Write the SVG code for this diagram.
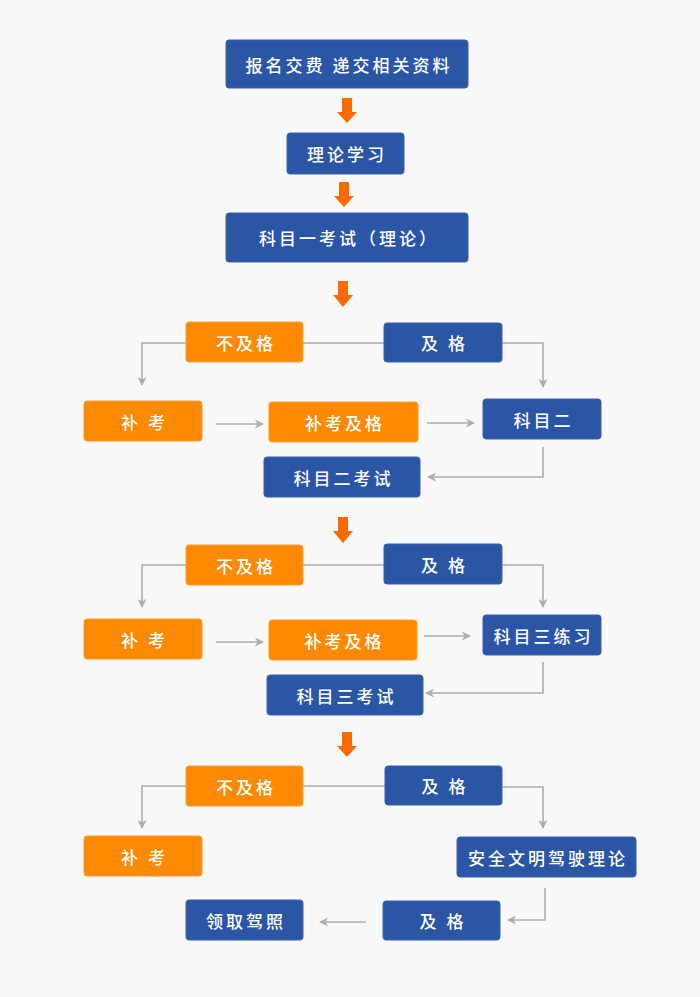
<svg xmlns="http://www.w3.org/2000/svg" width="700" height="997" viewBox="0 0 700 997">
<defs>
<style>
.b{fill:#2b55a5;stroke:#3a63b0;stroke-width:1}
.o{fill:#ff8a00;stroke:#ff9d2e;stroke-width:1}
.t{fill:#fff;font-family:"Noto Sans CJK SC","Noto Sans",sans-serif;font-size:17px;font-weight:500;letter-spacing:3px;text-anchor:middle;dominant-baseline:central}
.c{fill:none;stroke:#adadad;stroke-width:1.6}
.a{fill:#ff6a00}
</style>
<marker id="ah" viewBox="0 0 10 10" refX="9" refY="5" markerWidth="9" markerHeight="9" markerUnits="userSpaceOnUse" orient="auto">
<path d="M0,0 L10,5 L0,10 L3,5 z" fill="#adadad"/>
</marker>
</defs>
<rect width="700" height="997" fill="#f8f8f8"/>

<g id="connectors">
<path class="a" d="M342,98 h10 v14 h5 l-10,11 l-10,-11 h5 z"/>
<path class="a" d="M339,182 h10 v14 h5 l-10,11 l-10,-11 h5 z"/>
<path class="a" d="M338,281 h10 v14 h5 l-10,12 l-10,-12 h5 z"/>
<path class="a" d="M338,517 h10 v14 h5 l-10,12 l-10,-12 h5 z"/>
<path class="a" d="M342,732 h10 v14 h5 l-10,11 l-10,-11 h5 z"/>

<path class="c" d="M186,343 H142 V385" marker-end="url(#ah)"/>
<path class="c" d="M303,343 H384"/>
<path class="c" d="M502,343 H543 V387" marker-end="url(#ah)"/>
<path class="c" d="M216,424 H263" marker-end="url(#ah)"/>
<path class="c" d="M427,423 H474" marker-end="url(#ah)"/>
<path class="c" d="M543,447 V477 H428" marker-end="url(#ah)"/>

<path class="c" d="M186,565 H142 V607" marker-end="url(#ah)"/>
<path class="c" d="M303,565 H384"/>
<path class="c" d="M502,565 H543 V607" marker-end="url(#ah)"/>
<path class="c" d="M216,642 H263" marker-end="url(#ah)"/>
<path class="c" d="M424,636 H470" marker-end="url(#ah)"/>
<path class="c" d="M543,662 V693 H426" marker-end="url(#ah)"/>

<path class="c" d="M186,786 H142 V828" marker-end="url(#ah)"/>
<path class="c" d="M303,786 H385"/>
<path class="c" d="M502,787 H543 V828" marker-end="url(#ah)"/>
<path class="c" d="M545,888 V920 H508" marker-end="url(#ah)"/>
<path class="c" d="M366,922 H320" marker-end="url(#ah)"/>
</g>

<g id="n1"><rect class="b" x="226" y="40" width="242" height="48" rx="3"/><text class="t" x="349" y="64">报名交费 递交相关资料</text></g>
<g id="n2"><rect class="b" x="287" y="133" width="117" height="41" rx="3"/><text class="t" x="347" y="153.5">理论学习</text></g>
<g id="n3"><rect class="b" x="226" y="213" width="242" height="49" rx="3"/><text class="t" x="349" y="237.5">科目一考试（理论）</text></g>

<g id="n4"><rect class="o" x="186" y="322" width="117" height="40" rx="3"/><text class="t" x="246" y="342">不及格</text></g>
<g id="n5"><rect class="b" x="384" y="323" width="118" height="39" rx="3"/><text class="t" x="444.5" y="342.5">及 格</text></g>
<g id="n6"><rect class="o" x="84" y="401" width="118" height="40" rx="3"/><text class="t" x="144.5" y="421">补 考</text></g>
<g id="n7"><rect class="o" x="269" y="402" width="149" height="40" rx="3"/><text class="t" x="345" y="422">补考及格</text></g>
<g id="n8"><rect class="b" x="483" y="399" width="118" height="40" rx="3"/><text class="t" x="543.5" y="419">科目二</text></g>
<g id="n9"><rect class="b" x="264" y="457" width="156" height="40" rx="3"/><text class="t" x="343.5" y="477">科目二考试</text></g>

<g id="n10"><rect class="o" x="186" y="545" width="117" height="40" rx="3"/><text class="t" x="246" y="565">不及格</text></g>
<g id="n11"><rect class="b" x="384" y="544" width="118" height="40" rx="3"/><text class="t" x="444.5" y="564">及 格</text></g>
<g id="n12"><rect class="o" x="84" y="619" width="118" height="40" rx="3"/><text class="t" x="144.5" y="639">补 考</text></g>
<g id="n13"><rect class="o" x="269" y="620" width="148" height="40" rx="3"/><text class="t" x="344.5" y="640">补考及格</text></g>
<g id="n14"><rect class="b" x="483" y="615" width="118" height="40" rx="3"/><text class="t" x="543.5" y="635">科目三练习</text></g>
<g id="n15"><rect class="b" x="267" y="675" width="156" height="40" rx="3"/><text class="t" x="346.5" y="695">科目三考试</text></g>

<g id="n16"><rect class="o" x="186" y="766" width="117" height="40" rx="3"/><text class="t" x="246" y="786">不及格</text></g>
<g id="n17"><rect class="b" x="385" y="766" width="117" height="39" rx="3"/><text class="t" x="445" y="785.5">及 格</text></g>
<g id="n18"><rect class="o" x="84" y="836" width="118" height="40" rx="3"/><text class="t" x="144.5" y="856">补 考</text></g>
<g id="n19"><rect class="b" x="457" y="837" width="179" height="40" rx="3"/><text class="t" x="548" y="857">安全文明驾驶理论</text></g>
<g id="n20"><rect class="b" x="383" y="901" width="117" height="39" rx="3"/><text class="t" x="443" y="920.5">及 格</text></g>
<g id="n21"><rect class="b" x="186" y="900" width="117" height="40" rx="3"/><text class="t" x="246" y="920">领取驾照</text></g>
</svg>
